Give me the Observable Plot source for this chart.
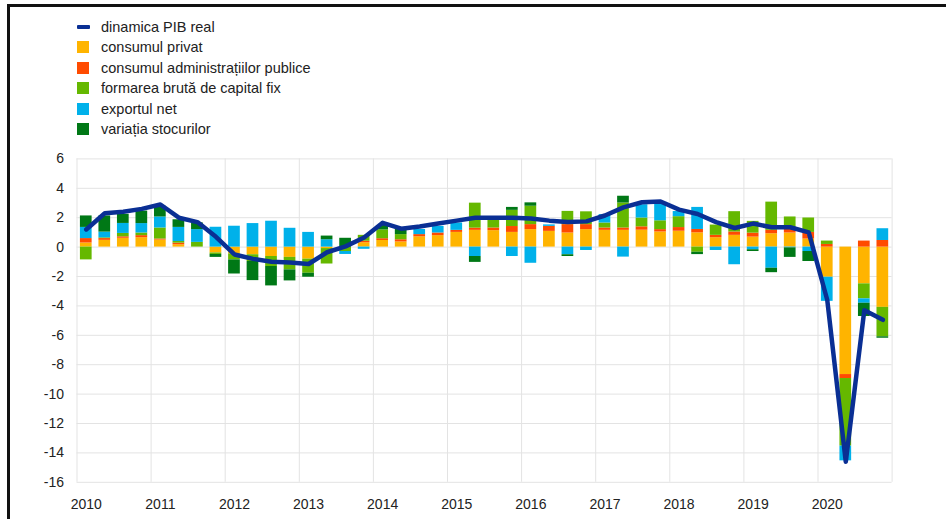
<!DOCTYPE html>
<html>
<head>
<meta charset="utf-8">
<script src="https://cdn.jsdelivr.net/npm/d3@7"></script>
<script src="https://cdn.jsdelivr.net/npm/@observablehq/plot@0.6"></script>
<style>
  body { margin: 0; background: #fff; }
  #wrap { position: relative; width: 946px; height: 519px; overflow: hidden; background: #fff;
          font-family: "Liberation Sans", Arial, sans-serif; }
  #chart { position: absolute; left: 0; top: 0; }
  #legend { position: absolute; left: 77px; top: 16.5px; font-size: 14.5px; color: #222; }
  .row { height: 20.5px; display: flex; align-items: center; white-space: nowrap; }
  .sw { width: 12px; height: 12px; margin-right: 12px; flex: none; }
  .ln { width: 13px; height: 4px; margin-right: 11px; flex: none; border-radius: 1px; }
  .frame-top { position: absolute; left: 7px; top: 4px; width: 939px; height: 3px; background: #111; }
  .frame-left { position: absolute; left: 7px; top: 4px; width: 3px; height: 515px; background: #111; }
</style>
</head>
<body>
<div id="wrap">
  <div id="chart"></div>
  <div id="legend"></div>
  <div class="frame-top"></div>
  <div class="frame-left"></div>
</div>
<script>
// ---- Data (quarterly, 2010Q1 .. 2020Q4), contributions in percentage points ----
const startYear = 2010;
const yearLabels = [2010, 2011, 2012, 2013, 2014, 2015, 2016, 2017, 2018, 2019, 2020];
const yTickValues = [-16, -14, -12, -10, -8, -6, -4, -2, 0, 2, 4, 6];

const lineName = "dinamica PIB real";
const seriesNames = [
  "consumul privat",
  "consumul administrațiilor publice",
  "formarea brută de capital fix",
  "exportul net",
  "variația stocurilor"
];

const gdpReal = [1.2, 2.3, 2.4, 2.6, 2.9, 2.0, 1.7, 0.7, -0.5, -0.8, -1.0, -1.05,
  -1.15, -0.35, 0.05, 0.65, 1.65, 1.25, 1.4, 1.6, 1.8, 2.0, 2.0, 2.0,
  1.95, 1.8, 1.7, 1.75, 2.15, 2.7, 3.05, 3.1, 2.55, 2.25, 1.7, 1.3,
  1.6, 1.35, 1.35, 1.0, -3.6, -14.6, -4.3, -4.95];

const privateCons = [0.28, 0.46, 0.6, 0.64, 0.48, 0.16, 0, -0.4, -0.46, -0.52, -0.64, -0.7,
  -0.82, -0.1, 0, 0.3, 0.45, 0.35, 0.7, 0.78, 1.0, 1.14, 1.12, 1.0,
  1.19, 1.07, 0.96, 1.19, 1.14, 1.14, 1.15, 1.03, 1.08, 0.97, 0.64, 0.8,
  0.68, 0.91, 0.96, 0.55, -2.05, -8.67, -2.5, -4.1];

const govCons = [0.3, 0.12, 0.1, 0.14, 0.07, 0.11, 0, 0, 0, 0, 0, 0,
  0, 0, 0, 0.1, 0.12, 0.15, 0.15, 0.18, 0.14, 0.15, 0.18, 0.4,
  0.34, 0.34, 0.57, 0.34, 0.16, 0.16, 0.23, 0.16, 0.25, 0.23, 0.16, 0.23,
  0.27, 0.23, 0.34, 0.45, 0.18, -0.27, 0.41, 0.45];

const gfcf = [-0.87, 0.05, 0.23, 0.18, 0.75, 0.11, 0.32, -0.1, -0.41, -0.46, -0.68, -0.85,
  -0.96, -1.05, -0.3, 0.4, 0.6, 0.35, 0, 0, 0, 1.7, 0.57, 1.1,
  1.25, 0, 0.9, 0.87, 0.34, 1.7, 0.6, 0.6, 0.74, -0.35, 0.7, 1.38,
  0.8, 1.92, 0.75, 0.98, 0.23, -4.6, -1.02, -2.0];

const netExports = [0.76, 0.39, 0.68, 0.64, 0.75, 0.96, 0.87, 1.35, 1.42, 1.6, 1.76, 1.28,
  1.0, 0.5, -0.2, -0.15, 0, 0, 0.35, 0.45, 0.5, -0.64, 0, -0.64,
  -1.1, 0.1, -0.52, -0.23, 0.57, -0.68, 0.9, 1.14, 0.35, 1.5, -0.23, -1.2,
  -0.18, -1.44, -0.05, -0.3, -1.64, -1.0, -0.3, 0.8];

const inventories = [0.78, 1.1, 0.62, 0.85, 0.73, 0.52, 0.46, -0.2, -0.96, -1.3, -1.32, -0.75,
  -0.27, 0.25, 0.6, 0, 0.3, 0.35, 0, 0, 0, -0.4, 0, 0.2,
  0.23, 0, -0.12, 0, 0, 0.46, 0, 0, 0, -0.16, 0, 0,
  -0.12, -0.3, -0.65, -0.68, 0, 0, -0.9, -0.1];

const seriesValues = [privateCons, govCons, gfcf, netExports, inventories];
const seriesColors = ["#FFB400", "#FF4B00", "#65B800", "#00B1EA", "#007816"];
const lineColor = "#0a2f94";

// ---- Build tables ----
const halfBar = 0.079; // half bar width in years
const bars = [];
const gdpRows = [];
gdpReal.forEach((v, i) => {
  const t = startYear + (i + 0.5) / 4;
  gdpRows.push({t, v});
  seriesNames.forEach((name, k) => {
    bars.push({x1: t - halfBar, x2: t + halfBar, series: name, value: seriesValues[k][i]});
  });
});
const yearBounds = yearLabels.concat([yearLabels[yearLabels.length - 1] + 1]);

// ---- Chart ----
const chart = Plot.plot({
  width: 946,
  height: 519,
  marginTop: 158.4,
  marginBottom: 37.2,
  marginLeft: 76.5,
  marginRight: 54.4,
  style: {fontFamily: "'Liberation Sans', Arial, sans-serif", fontSize: "14px", color: "#222", background: "transparent"},
  x: {domain: [yearBounds[0], yearBounds[yearBounds.length - 1]], axis: null},
  y: {domain: [yTickValues[0], yTickValues[yTickValues.length - 1]], axis: null},
  color: {domain: seriesNames, range: seriesColors},
  marks: [
    Plot.ruleY(yTickValues, {stroke: "#e3e3e3", strokeWidth: 1}),
    Plot.ruleX(yearBounds, {stroke: "#e3e3e3", strokeWidth: 1}),
    Plot.rectY(bars, {x1: "x1", x2: "x2", y: "value", fill: "series"}),
    Plot.line(gdpRows, {x: "t", y: "v", stroke: lineColor, strokeWidth: 4.5, strokeLinejoin: "round", strokeLinecap: "round"}),
    Plot.text(yTickValues, {y: d => d, frameAnchor: "left", dx: -13, textAnchor: "end", text: d => String(d), fontSize: 14, fill: "#222"}),
    Plot.text(yearLabels, {x: d => d + 0.125, frameAnchor: "bottom", dy: 26.5, text: d => String(d), fontSize: 14, fill: "#222"})
  ]
});
document.getElementById("chart").appendChild(chart);

// ---- Legend ----
const legend = document.getElementById("legend");
const items = [{name: lineName, color: lineColor, line: true}]
  .concat(seriesNames.map((n, k) => ({name: n, color: seriesColors[k], line: false})));
items.forEach(it => {
  const row = document.createElement("div");
  row.className = "row";
  const sw = document.createElement("span");
  sw.className = it.line ? "ln" : "sw";
  sw.style.background = it.color;
  const tx = document.createElement("span");
  tx.textContent = it.name;
  row.appendChild(sw);
  row.appendChild(tx);
  legend.appendChild(row);
});
</script>
</body>
</html>
